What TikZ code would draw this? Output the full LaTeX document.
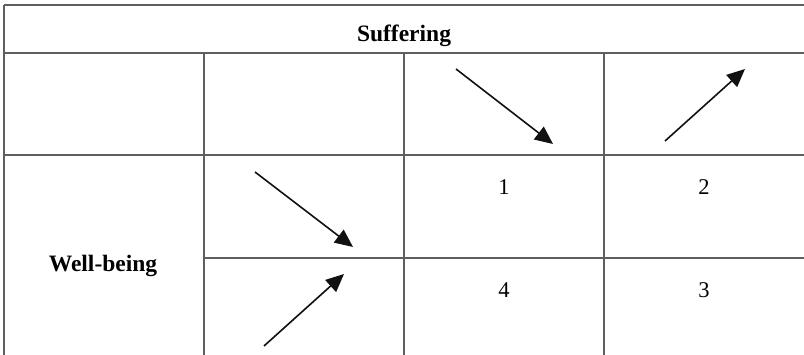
\documentclass[tikz,border=0pt]{standalone}
\usepackage{fontspec}
\setmainfont{Liberation Serif}
\usepackage{xcolor}
\definecolor{cGrid}{HTML}{5E5E5E}
\definecolor{cInk}{HTML}{111111}
\usetikzlibrary{arrows.meta}
\tikzset{
  grid-line/.style={draw=cGrid,line width=1.3pt},
  cell-head/.style={font=\fontsize{23.5}{27}\selectfont\bfseries,inner sep=0pt,anchor=base},
  cell-num/.style={font=\fontsize{22.5}{26}\selectfont,inner sep=0pt,anchor=base},
  trend/.style={-{Triangle[length=18pt,width=16pt]},line width=1.6pt,draw=cInk,fill=cInk},
}

\begin{document}
\begin{tikzpicture}[x=1pt,y=-1pt]
  \useasboundingbox (0,0) rectangle (804,355);
  % grid
  \draw[grid-line] (4,5) -- (804,5);
  \draw[grid-line] (4,53) -- (804,53);
  \draw[grid-line] (4,155) -- (804,155);
  \draw[grid-line] (204,258) -- (804,258);
  \draw[grid-line] (4,5) -- (4,355);
  \foreach \x in {204,404,604}
    \draw[grid-line] (\x,53) -- (\x,355);
  % labels
  \node[cell-head] (suf) at (404,42) {Suffering};
  \node[cell-head] (wb)  at (103,272) {Well-being};
  \node[cell-num] (n1) at (504,195) {1};
  \node[cell-num] (n2) at (704,195) {2};
  \node[cell-num] (n4) at (504,298) {4};
  \node[cell-num] (n3) at (704,298) {3};
  % trend arrows
  \coordinate (sd-a) at (456,69);  \coordinate (sd-b) at (553,144);
  \coordinate (su-a) at (665,141); \coordinate (su-b) at (745,69);
  \coordinate (wd-a) at (255,172); \coordinate (wd-b) at (353,247);
  \coordinate (wu-a) at (264,346); \coordinate (wu-b) at (344,274);
  \draw[trend] (sd-a) -- (sd-b);
  \draw[trend] (su-a) -- (su-b);
  \draw[trend] (wd-a) -- (wd-b);
  \draw[trend] (wu-a) -- (wu-b);
\end{tikzpicture}
\end{document}
